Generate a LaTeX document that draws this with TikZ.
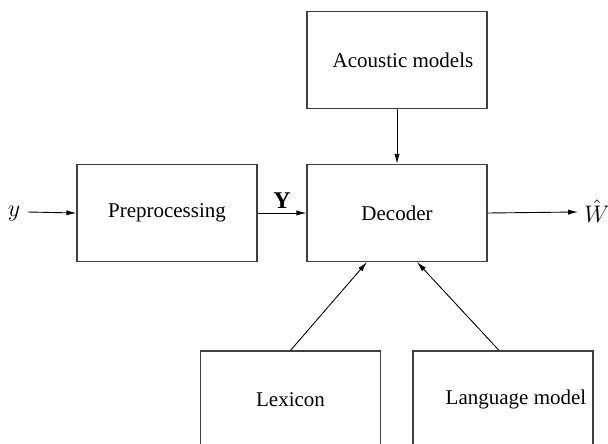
\documentclass[tikz,border=0pt]{standalone}
\usepackage{fontspec}
\setmainfont{Liberation Serif}
\usetikzlibrary{arrows.meta}
\begin{document}
\begin{tikzpicture}[x=0.5pt,y=-0.5pt,
  blk/.style={draw=black!75,line width=0.6pt,minimum width=90pt,minimum height=48.5pt,inner sep=0pt,font=\fontsize{10.5}{12}\selectfont},
  lbl/.style={inner sep=1pt,font=\fontsize{12}{14}\selectfont},
  arr/.style={draw=black,line width=0.45pt,-{Latex[length=5pt,width=2.6pt]}}]
\useasboundingbox (0,0) rectangle (608,443);
\node[blk] (ac) at (397,60) {\hspace*{6pt}Acoustic models};
\node[blk] (pre) at (167,213) {Preprocessing};
\node[blk] (dec) at (397,213) {\raisebox{-2pt}{Decoder}};
\node[blk] (lex) at (290.5,399.5) {\raisebox{-2pt}{Lexicon}};
\node[blk] (lm) at (503,399.5) {\hspace*{13pt}Language model};
\node[lbl] (y) at (14,214) {$y$};
\node[lbl] (w) at (597,211) {$\hat{W}$};
\coordinate (ystart) at (28,212);
\coordinate (wend) at (578,212);
\draw[arr] (ystart) -- (pre.west);
\draw[arr] (pre.east) -- node[lbl,above=1pt] {$\mathbf{Y}$} (dec.west);
\draw[arr] (ac.south) -- (dec.north);
\draw[arr] (dec.east) -- (wend);
\draw[arr] (lex.north) -- (367,262) coordinate (lexin);
\draw[arr] ([xshift=-2pt]lm.north) -- (417,262) coordinate (lmin);
\end{tikzpicture}
\end{document}
